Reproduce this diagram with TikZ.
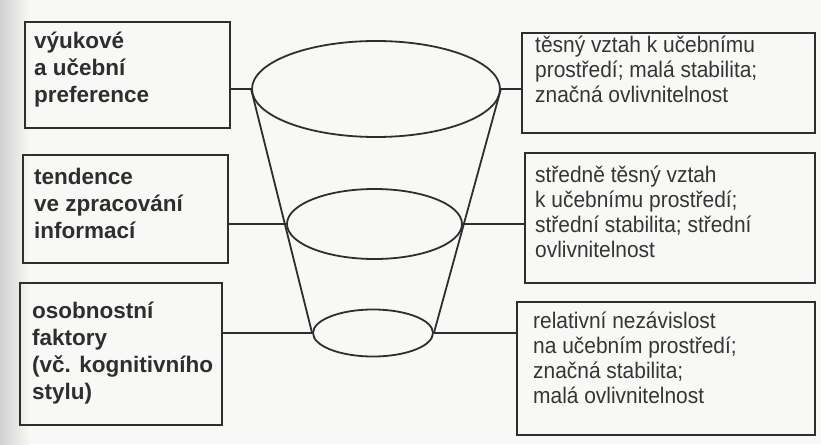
\documentclass[tikz,border=0pt]{standalone}
\usepackage{fontspec}
\setmainfont{Liberation Sans}
\newfontfamily\narrowsans[FakeStretch=0.93]{Liberation Sans}
\usetikzlibrary{shapes.geometric}
\definecolor{ink}{HTML}{2E2E2E}
\definecolor{softink}{HTML}{353535}
\definecolor{paper}{HTML}{F8F8F6}
\tikzset{
  box/.style={draw=ink, line width=1.5pt, rectangle, inner sep=0pt},
  layer/.style={draw=ink, line width=1.8pt, ellipse, inner sep=0pt},
  link/.style={draw=ink, line width=1.8pt},
  leftlabel/.style={anchor=north west, inner sep=0pt, align=left, text=ink,
    font=\fontsize{22.5}{27}\selectfont\bfseries},
  rightlabel/.style={anchor=north west, inner sep=0pt, align=left, text=softink,
    font=\narrowsans\fontsize{22.5}{25}\selectfont},
}
% fixed first-line height, so each label's top sits 22pt above its first baseline
\newcommand{\firstline}{\rule{0pt}{22pt}}
\begin{document}
\begin{tikzpicture}[x=1pt,y=-1pt]
% page and paper tone
\useasboundingbox (0,0) rectangle (821,444);
\fill[paper] (0,0) rectangle (821,444);
\shade[left color=black!18, right color=paper] (0,0) rectangle (30,444);

% left boxes
\node[box, minimum width=205pt, minimum height=106pt] (L1) at (127.5,75) {};
\node[box, minimum width=205pt, minimum height=108pt] (L2) at (125.5,209) {};
\node[box, minimum width=202pt, minimum height=142pt] (L3) at (121,354) {};

\node[leftlabel] (l1) at (34,48-22) {\firstline výukové\\a učební\\preference};
\node[leftlabel] (l2) at (34,184-22) {\firstline tendence\\ve zpracování\\informací};
\node[leftlabel] (l3) at (32,318-22) {\firstline osobnostní\\faktory\\(vč. kognitivního\\stylu)};

% right boxes
\node[box, minimum width=293pt, minimum height=100pt] (R1) at (668.5,83) {};
\node[box, minimum width=290pt, minimum height=130pt] (R2) at (670,218) {};
\node[box, minimum width=298pt, minimum height=133pt] (R3) at (666,368.5) {};

\node[rightlabel] (r1) at (535,52-22) {\firstline těsný vztah k učebnímu\\prostředí; malá stabilita;\\značná ovlivnitelnost};
\node[rightlabel] (r2) at (535,182-22) {\firstline středně těsný vztah\\k učebnímu prostředí;\\střední stabilita; střední\\ovlivnitelnost};
\node[rightlabel] (r3) at (533,328-22) {\firstline relativní nezávislost\\na učebním prostředí;\\značná stabilita;\\malá ovlivnitelnost};

% the funnel: three cross-sections and its two sides
\node[layer, minimum width=248pt, minimum height=96pt] (E1) at (376,89) {};
\node[layer, minimum width=175pt, minimum height=70pt] (E2) at (374.5,224) {};
\node[layer, minimum width=120pt, minimum height=47pt] (E3) at (373,333) {};
\draw[link] (E1.west) -- (E3.west);
\draw[link] (E1.east) -- (E3.east);

% connectors from the boxes to the cross-sections
\draw[link] (L1.east |- E1.west) -- (E1.west);
\draw[link] (L2.east |- E2.west) -- (E2.west);
\draw[link] (L3.east |- E3.west) -- (E3.west);
\draw[link] (E1.east) -- (R1.west |- E1.east);
\draw[link] (E2.east) -- (R2.west |- E2.east);
\draw[link] (E3.east) -- (R3.west |- E3.east);
\end{tikzpicture}
\end{document}
